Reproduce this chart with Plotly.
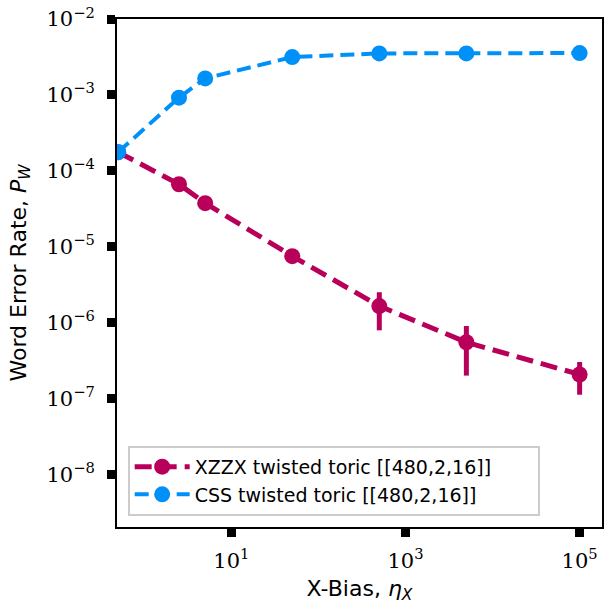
import plotly.graph_objects as go

# Data
bias = [0.5, 2.5, 5, 50, 500, 5000, 100000]
xzzx_wer = [1.76e-4, 6.65e-5, 3.74e-5, 7.5e-6, 1.65e-6, 5.5e-7, 2.07e-7]
xzzx_err = [4e-6, 2e-6, 1.5e-6, 7e-7, 8.6e-7, 3.5e-7, 9.5e-8]
css_wer = [1.76e-4, 9.2e-4, 1.65e-3, 3.15e-3, 3.52e-3, 3.52e-3, 3.56e-3]
css_err = [4e-6, 1e-5, 1.5e-5, 2e-5, 2e-5, 2e-5, 2e-5]
ytick_vals = [1e-8, 1e-7, 1e-6, 1e-5, 1e-4, 1e-3, 1e-2]
ytick_text = ["10<sup>−8</sup>", "10<sup>−7</sup>", "10<sup>−6</sup>", "10<sup>−5</sup>",
              "10<sup>−4</sup>", "10<sup>−3</sup>", "10<sup>−2</sup>"]
xtick_vals = [10, 1000, 100000]
xtick_text = ["10<sup>1</sup>", "10<sup>3</sup>", "10<sup>5</sup>"]

RED = "#B8005A"
BLUE = "#0091F8"

fig = go.Figure()
fig.add_trace(go.Scatter(
    x=bias, y=xzzx_wer, mode="lines+markers",
    name="XZZX twisted toric [[480,2,16]]",
    line=dict(color=RED, width=5, dash="17px,8px"),
    marker=dict(color=RED, size=16),
    error_y=dict(type="data", array=xzzx_err, color=RED, thickness=5, width=0),
))
fig.add_trace(go.Scatter(
    x=bias, y=css_wer, mode="lines+markers",
    name="CSS twisted toric [[480,2,16]]",
    line=dict(color=BLUE, width=4, dash="14px,7px"),
    marker=dict(color=BLUE, size=16),
    error_y=dict(type="data", array=css_err, color=BLUE, thickness=4, width=0),
))

tickfont = dict(family="DejaVu Serif, Liberation Serif, serif", size=21, color="black")
titlefont = dict(family="DejaVu Sans, sans-serif", size=22, color="black")
fig.update_layout(
    width=605, height=612,
    margin=dict(l=117, r=1, t=19, b=85),
    paper_bgcolor="white", plot_bgcolor="white",
    font=dict(family="DejaVu Sans, sans-serif", color="black"),
    showlegend=True,
    legend=dict(
        x=0.022, y=0.022, xanchor="left", yanchor="bottom",
        orientation="h", entrywidth=338, entrywidthmode="pixels",
        itemwidth=55,
        bgcolor="rgba(255,255,255,0.8)", bordercolor="#CCCCCC", borderwidth=2,
        font=dict(family="DejaVu Sans, sans-serif", size=19, color="black"),
        tracegroupgap=0,
    ),
    xaxis=dict(
        type="log", range=[-0.314, 5.257],
        tickvals=xtick_vals, ticktext=xtick_text, tickfont=tickfont,
        ticks="outside", ticklen=8, tickwidth=9, tickcolor="black",
        ticklabelstandoff=6,
        showline=True, linecolor="black", linewidth=2, mirror=True,
        showgrid=False, zeroline=False,
        title=dict(text="X-Bias, <i>η<sub>X</sub></i>", font=titlefont, standoff=8),
    ),
    yaxis=dict(
        type="log", range=[-8.694, -2],
        tickvals=ytick_vals, ticktext=ytick_text, tickfont=tickfont,
        ticks="outside", ticklen=8, tickwidth=9, tickcolor="black",
        ticklabelstandoff=8,
        showline=True, linecolor="black", linewidth=2, mirror=True,
        showgrid=False, zeroline=False,
        title=dict(text="Word Error Rate, <i>P<sub>W</sub></i>", font=titlefont, standoff=14),
    ),
)

fig.write_html("out.html", config={"displayModeBar": False},
               post_script="document.body.style.margin='0';")
